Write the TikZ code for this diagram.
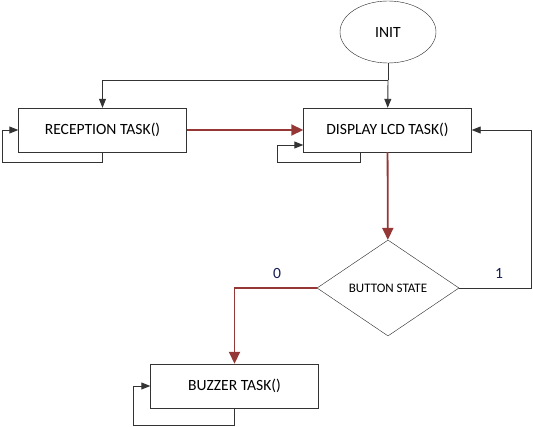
\documentclass[tikz,border=0pt]{standalone}
\usepackage{fontspec}
\setmainfont{Carlito}
\usetikzlibrary{arrows.meta,shapes.geometric}
\definecolor{flowred}{RGB}{149,55,53}
\definecolor{labelblue}{RGB}{20,30,80}
\begin{document}
\begin{tikzpicture}
[x=1pt,y=-1pt,
  taskdecorate/.style={shape=rectangle,draw=black!80,minimum width=168pt,minimum height=44pt,inner sep=0pt,font=\fontsize{15.6}{18}\selectfont},%
  startdecorate/.style={shape=ellipse,draw=black!85,minimum width=96pt,minimum height=62pt,inner sep=0pt,font=\fontsize{15.6}{18}\selectfont},%
  testdecorate/.style={shape=diamond,draw=black!85,minimum width=142pt,minimum height=96pt,inner sep=0pt,font=\fontsize{13}{15}\selectfont},%
  linedecorate/.style={-{Triangle[length=9pt,width=7pt]},draw=black!80,line width=0.9pt},%
  redlinedecorate/.style={-{Triangle[length=12pt,width=11pt]},draw=flowred,line width=1.8pt},%
  bitdecorate/.style={text=labelblue,font=\fontsize{15.6}{18}\selectfont}]
\useasboundingbox (0,0) rectangle (533,427);
%% nodes or vertices
\node (init) at (388,32) [startdecorate] {INIT};
\foreach \nodename/\x/\y/\caption in {rec/102.5/130/RECEPTION TASK(),
  disp/387.5/130/DISPLAY LCD TASK(), buz/234.5/386/BUZZER TASK()} {
  \node (\nodename) at (\x,\y) [taskdecorate] {\caption};
}
\node (btn) at (388,288) [testdecorate] {BUTTON STATE};
\node (zero) at (277,273) [bitdecorate] {0};
\node (one) at (499,273) [bitdecorate] {1};
%% turning points
\coordinate (split) at (388,80);
\coordinate (feedback) at (531,130);
\coordinate (recback) at (2,162);
\coordinate (dispback) at (277,162);
\coordinate (buzback) at (133,425);
%% edges or lines
\draw[linedecorate,-] (init) -- (split);
\draw[linedecorate] (split) -| (rec);
\draw[linedecorate] (split) -- (disp);
\draw[redlinedecorate] (rec) -- (disp);
\draw[redlinedecorate] (disp) -- (btn);
\draw[redlinedecorate] (btn.west) -| (buz);
\draw[linedecorate] (btn.east) -| (feedback) -- (disp.east);
%% self loops
\foreach \nodename/\startshift/\endshift in {rec/0/0, disp/-27.5/-15, buz/0/0} {
  \draw[linedecorate] ([xshift=\startshift pt]\nodename.south) |- (\nodename back)
    |- ([yshift=\endshift pt]\nodename.west);
}
\end{tikzpicture}
\end{document}
